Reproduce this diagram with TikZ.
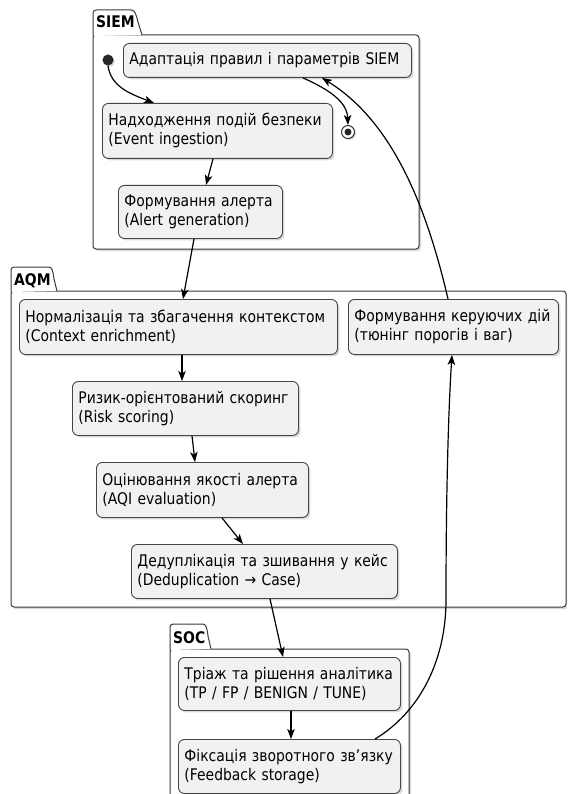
\documentclass[tikz,border=0pt]{standalone}
\usepackage{fontspec}
\setmainfont[FakeStretch=0.87]{DejaVu Sans}
\usetikzlibrary{shadows,arrows.meta,calc}
\definecolor{boxfill}{HTML}{F1F1F1}
\definecolor{bordc}{HTML}{454545}
\definecolor{pkgc}{HTML}{3A3A3A}
\newcommand\nodefont{\fontsize{16}{19}\selectfont}
\tikzset{
  box/.style={draw=bordc, fill=boxfill, rounded corners=6pt, line width=0.9pt,
    anchor=north west, align=left, inner xsep=6pt, inner ysep=0pt, font=\nodefont,
    drop shadow={shadow xshift=2pt, shadow yshift=-2pt, opacity=0.3}},
  pkgbody/.style={draw=pkgc, fill=white, line width=1pt, rounded corners=3pt,
    drop shadow={shadow xshift=2pt, shadow yshift=-2pt, opacity=0.3}},
  pkgtab/.style={draw=pkgc, fill=white, line width=1pt},
  tablabel/.style={anchor=base west, inner sep=0pt, font=\fontsize{16}{19}\selectfont\bfseries},
  conn/.style={draw=black, line width=1.2pt, -{Stealth[length=10pt,width=7.5pt,inset=2.5pt]}}
}
\begin{document}
\begin{tikzpicture}[x=1pt,y=-1pt]
\useasboundingbox (0,0) rectangle (567,794);
\clip (0,0) rectangle (567,794);

% packages
\path[pkgbody] (93,35) rectangle (419,249);
\draw[pkgtab, rounded corners=3pt] (93,36) -- (93,10) -- (128,10) [sharp corners] .. controls (135,10) and (136,14) .. (138,22) -- (142,35);
\node[tablabel] (siemlbl) at (96,28) {SIEM};

\path[pkgbody] (11,291) rectangle (566,607);
\draw[pkgtab, rounded corners=3pt] (11,292) -- (11,267) -- (46,267) [sharp corners] .. controls (52,267) and (53,271) .. (54,279) -- (57,291);
\node[tablabel] (aqmlbl) at (14,285) {AQM};

\path[pkgbody] (170,649) rectangle (409,830);
\draw[pkgtab, rounded corners=3pt] (170,650) -- (170,624) -- (200,624) [sharp corners] .. controls (206,624) and (207,628) .. (208,636) -- (211,649);
\node[tablabel] (soclbl) at (173,643) {SOC};

% state nodes
\node[box, minimum width=288pt, minimum height=34pt, text width=276pt] (adapt) at (123,43) {Адаптація правил і параметрів SIEM};
\node[box, minimum width=230pt, minimum height=55pt, text width=218pt] (ingest) at (102,103) {Надходження подій безпеки\\(Event ingestion)};
\node[box, minimum width=164pt, minimum height=53pt, text width=152pt] (alert) at (118,185) {Формування алерта\\(Alert generation)};
\node[box, minimum width=318pt, minimum height=55pt, text width=306pt] (norm) at (19,299) {Нормалізація та збагачення контекстом\\(Context enrichment)};
\node[box, minimum width=210pt, minimum height=55pt, text width=198pt] (ctrl) at (348,299) {Формування керуючих дій\\(тюнінг порогів і ваг)};
\node[box, minimum width=226pt, minimum height=54pt, text width=214pt] (risk) at (72,381) {Ризик-орієнтований скоринг\\(Risk scoring)};
\node[box, minimum width=212pt, minimum height=55pt, text width=200pt] (aqi) at (96,462) {Оцінювання якості алерта\\(AQI evaluation)};
\node[box, minimum width=266pt, minimum height=54pt, text width=254pt] (dedup) at (131,544) {Дедуплікація та зшивання у кейс\\(Deduplication → Case)};
\node[box, minimum width=222pt, minimum height=53pt, text width=210pt] (triage) at (178,657) {Тріаж та рішення аналітика\\(TP / FP / BENIGN / TUNE)};
\node[box, minimum width=222pt, minimum height=54pt, text width=210pt] (fix) at (178,739) {Фіксація зворотного зв’язку\\(Feedback storage)};

% start / end
\node[circle, fill=black!85, inner sep=0pt, minimum size=11pt,
  drop shadow={shadow xshift=1.5pt, shadow yshift=-1.5pt, opacity=0.3}] (start) at (108,60) {};
\node[circle, draw=black!80, fill=white, line width=1pt, inner sep=0pt, minimum size=13pt,
  drop shadow={shadow xshift=1.5pt, shadow yshift=-1.5pt, opacity=0.3}] (end) at (348,132) {};
\node[circle, fill=black!85, inner sep=0pt, minimum size=7pt] (endin) at (end.center) {};

% connectors
\draw[conn] (start.south) .. controls (111,86) and (128,93) .. ($(ingest.north west)+(52,0)$);
\draw[conn] ($(ingest.south west)+(111,0)$) -- ($(alert.north west)+(88,0)$);
\draw[conn] ($(adapt.south west)+(180,0)$) .. controls (330,90) and (347,102) .. (end.north);
\draw[conn] ($(alert.south west)+(76,0)$) -- ($(norm.north west)+(164,0)$);
\draw[conn] ($(norm.south west)+(163,0)$) -- ($(risk.north west)+(110,0)$);
\draw[conn] ($(risk.south west)+(120,0)$) -- ($(aqi.north west)+(99,0)$);
\draw[conn] ($(aqi.south west)+(126,0)$) -- ($(dedup.north west)+(112,0)$);
\draw[conn] ($(dedup.south west)+(139,0)$) -- ($(triage.north west)+(105,0)$);
\draw[conn] ($(triage.south west)+(113,0)$) -- ($(fix.north west)+(113,0)$);
\draw[conn] ($(fix.north west)+(197,0)$) .. controls (420,712) and (446,660) .. (446,600)
  .. controls (446,480) and (449,400) .. ($(ctrl.south west)+(104,0)$);
\draw[conn] ($(ctrl.north west)+(100,0)$) .. controls (425,200) and (390,120) .. ($(adapt.south west)+(199,0)$);
\end{tikzpicture}
\end{document}
